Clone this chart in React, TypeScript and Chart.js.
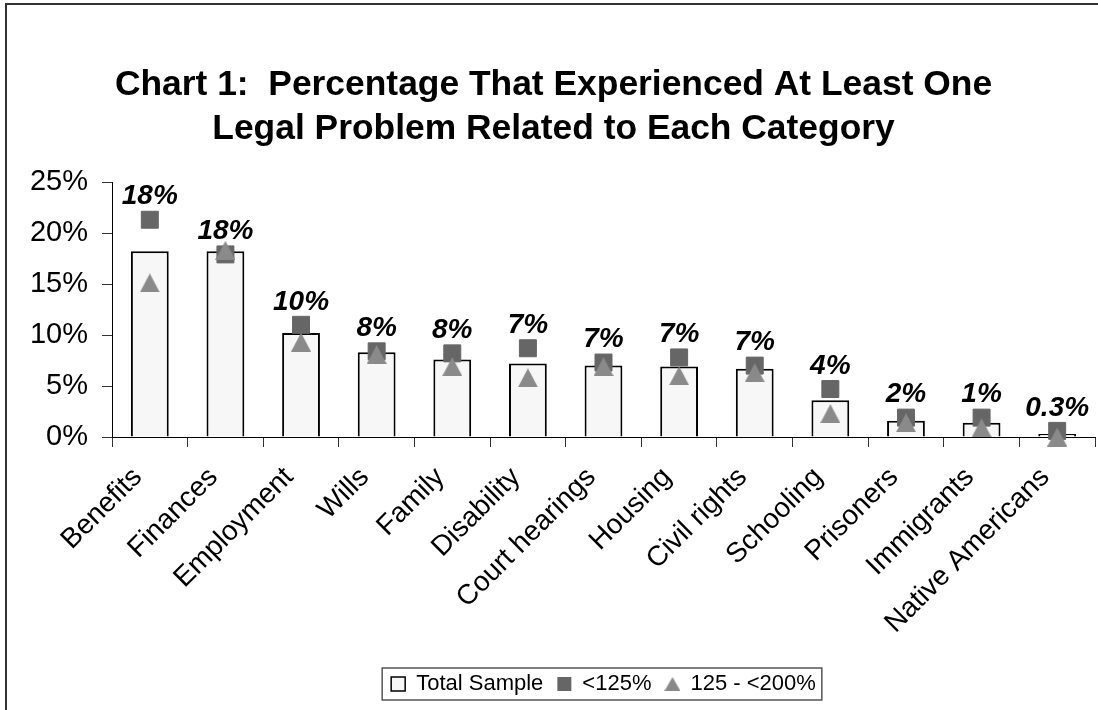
import { useEffect, useRef } from 'react';
import { Chart, registerables } from 'chart.js';

Chart.register(...registerables);

const categories = [
  'Benefits', 'Finances', 'Employment', 'Wills', 'Family', 'Disability',
  'Court hearings', 'Housing', 'Civil rights', 'Schooling', 'Prisoners',
  'Immigrants', 'Native Americans',
];
const totalSample = [18.2, 18.2, 10.2, 8.3, 7.6, 7.2, 7.0, 6.9, 6.7, 3.6, 1.6, 1.4, 0.3];
const below125 = [21.3, 17.9, 11.0, 8.4, 8.2, 8.7, 7.3, 7.8, 7.0, 4.7, 1.9, 1.9, 0.6];
const from125to200 = [15.1, 18.3, 9.3, 8.1, 6.9, 5.8, 6.9, 6.0, 6.3, 2.3, 1.4, 0.9, 0.0];
const totalLabels = ['18%', '18%', '10%', '8%', '8%', '7%', '7%', '7%', '7%', '4%', '2%', '1%', '0.3%'];
const yTicks = [0, 5, 10, 15, 20, 25];
const titleLines = [
  'Chart 1:  Percentage That Experienced At Least One',
  'Legal Problem Related to Each Category',
];
const legendNames = ['Total Sample', '<125%', '125 - <200%'];

const FONT = "'Liberation Sans', Arial, Helvetica, sans-serif";
const BAR_FILL = '#f7f7f7';
const SQUARE_COLOR = '#666666';
const TRI_COLOR = '#8a8a8a';

function makeTriangle(w: number, h: number, color: string) {
  const c = document.createElement('canvas');
  c.width = w;
  c.height = h;
  const ctx = c.getContext('2d')!;
  ctx.fillStyle = color;
  ctx.beginPath();
  ctx.moveTo(w / 2, 0);
  ctx.lineTo(w, h);
  ctx.lineTo(0, h);
  ctx.closePath();
  ctx.fill();
  return c;
}

const noPadding = () => ({ left: 0, top: 0, right: 0, bottom: 0 });

export default function App() {
  const ref = useRef<HTMLCanvasElement | null>(null);

  useEffect(() => {
    if (!ref.current) return;
    const tri = makeTriangle(20, 19, TRI_COLOR);
    const legendTri = makeTriangle(16, 14, TRI_COLOR);

    const framePlugin = {
      id: 'frame',
      beforeDraw(chart: any) {
        const ctx = chart.ctx;
        ctx.save();
        ctx.fillStyle = '#ffffff';
        ctx.fillRect(0, 0, chart.width, chart.height);
        ctx.fillStyle = '#333333';
        ctx.fillRect(5, 3, chart.width - 5, 2);
        ctx.fillRect(5, 3, 2, chart.height - 3);
        ctx.restore();
      },
    };

    const labelPlugin = {
      id: 'totalLabels',
      afterDatasetsDraw(chart: any) {
        const ctx = chart.ctx;
        const meta = chart.getDatasetMeta(1);
        ctx.save();
        ctx.font = `italic bold 28px ${FONT}`;
        ctx.fillStyle = '#000';
        ctx.textAlign = 'center';
        ctx.textBaseline = 'middle';
        meta.data.forEach((pt: any, i: number) => {
          ctx.fillText(totalLabels[i], pt.x, pt.y - 23);
        });
        ctx.restore();
      },
    };

    const legendBoxPlugin = {
      id: 'legendBox',
      afterDraw(chart: any) {
        const lg = chart.legend;
        if (!lg || !lg.legendHitBoxes || !lg.legendHitBoxes.length) return;
        const hb = lg.legendHitBoxes;
        const left = hb[0].left - 9;
        const right = hb[hb.length - 1].left + hb[hb.length - 1].width + 6;
        const top = hb[0].top - 5;
        const bottom = hb[0].top + hb[0].height + 5;
        const ctx = chart.ctx;
        ctx.save();
        ctx.strokeStyle = '#555';
        ctx.lineWidth = 1.5;
        ctx.strokeRect(left, top, right - left, bottom - top);
        ctx.restore();
      },
    };

    const chart = new Chart(ref.current, {
      type: 'bar',
      data: {
        labels: categories,
        datasets: [
          {
            type: 'bar',
            label: legendNames[0],
            data: totalSample,
            backgroundColor: BAR_FILL,
            borderColor: '#000',
            borderWidth: 2,
            barPercentage: 0.5,
            categoryPercentage: 1,
            order: 3,
          },
          {
            type: 'line',
            label: legendNames[1],
            data: below125,
            showLine: false,
            pointStyle: 'rect',
            pointRadius: 12,
            pointBackgroundColor: SQUARE_COLOR,
            pointBorderColor: SQUARE_COLOR,
            pointBorderWidth: 1,
            clip: false,
            order: 2,
          },
          {
            type: 'line',
            label: legendNames[2],
            data: from125to200,
            showLine: false,
            pointStyle: tri,
            pointRadius: 10,
            pointBackgroundColor: TRI_COLOR,
            pointBorderColor: TRI_COLOR,
            clip: false,
            order: 1,
          },
        ] as any,
      },
      options: {
        responsive: false,
        devicePixelRatio: 1,
        animation: false,
        events: [],
        layout: { autoPadding: false, padding: { left: 12, right: 3, top: 0, bottom: 5 } },
        plugins: {
          tooltip: { enabled: false },
          title: {
            display: true,
            text: titleLines,
            color: '#000',
            font: { size: 35.4, weight: 'bold', family: FONT, lineHeight: 1.25 },
            padding: { top: 63, bottom: 30.5 },
          },
          legend: {
            display: true,
            position: 'bottom',
            fullSize: false,
            labels: {
              usePointStyle: true,
              boxWidth: 14,
              boxHeight: 14,
              padding: 14,
              color: '#000',
              font: { size: 22, family: FONT },
              generateLabels: () => [
                { text: legendNames[0], fillStyle: BAR_FILL, strokeStyle: '#000', lineWidth: 1.5, pointStyle: 'rect', hidden: false, datasetIndex: 0, fontColor: '#000' },
                { text: legendNames[1], fillStyle: SQUARE_COLOR, strokeStyle: SQUARE_COLOR, lineWidth: 0, pointStyle: 'rect', hidden: false, datasetIndex: 1, fontColor: '#000' },
                { text: legendNames[2], fillStyle: TRI_COLOR, strokeStyle: TRI_COLOR, lineWidth: 0, pointStyle: legendTri, hidden: false, datasetIndex: 2, fontColor: '#000' },
              ] as any,
            },
          },
        },
        scales: {
          x: {
            offset: true,
            grid: { display: true, drawOnChartArea: false, drawTicks: true, tickLength: 10, color: '#333', offset: true },
            border: { display: true, color: '#000', width: 1 },
            ticks: {
              autoSkip: false,
              maxRotation: 45,
              minRotation: 45,
              padding: 14,
              labelOffset: -12,
              color: '#000',
              font: { size: 28, family: FONT },
            },
            afterFit: (s: any) => {
              s.height = 222;
              s.paddingLeft = 0;
              s.paddingRight = 0;
              s.getPadding = noPadding;
            },
          },
          y: {
            min: 0,
            max: 25,
            afterBuildTicks: (s: any) => { s.ticks = yTicks.map((v) => ({ value: v })); },
            ticks: {
              color: '#000',
              padding: 14,
              font: { size: 29, family: FONT },
              callback: (v: any) => `${v}%`,
            },
            grid: { display: true, drawOnChartArea: false, drawTicks: true, tickLength: 10, color: '#333' },
            border: { display: true, color: '#000', width: 1 },
            afterFit: (s: any) => {
              s.width = 100;
              s.paddingTop = 0;
              s.paddingBottom = 0;
              s.getPadding = noPadding;
            },
          },
        },
      } as any,
      plugins: [framePlugin, labelPlugin, legendBoxPlugin],
    });

    return () => chart.destroy();
  }, []);

  return (
    <div style={{ position: 'fixed', left: 0, top: 0, width: 1098, height: 710, background: '#fff' }}>
      <canvas ref={ref} width={1098} height={710} style={{ display: 'block' }} />
    </div>
  );
}
